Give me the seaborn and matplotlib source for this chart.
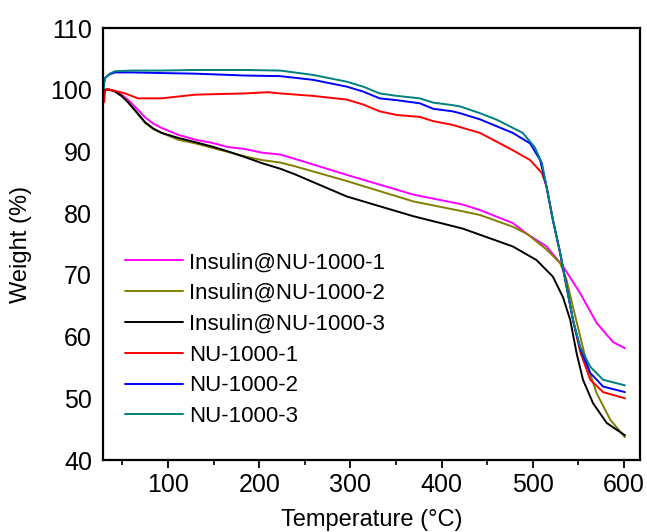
import matplotlib
matplotlib.use("Agg")
import matplotlib.pyplot as plt
from matplotlib.ticker import MultipleLocator
import seaborn as sns
import pandas as pd

# ---- data ----
names = ["Insulin@NU-1000-1", "Insulin@NU-1000-2", "Insulin@NU-1000-3",
         "NU-1000-1", "NU-1000-2", "NU-1000-3"]
colors = ["#FF00FF", "#808000", "#000000", "#FF0000", "#0000FF", "#008080"]

ins1_t = [29, 31, 36, 42, 49, 56, 66, 75, 84, 93, 111, 130, 148, 166, 184, 203, 223, 239, 296, 369, 423, 442, 478, 494, 515, 533, 552, 570, 588, 601]
ins1_w = [99.5, 100.0, 100.0, 99.8, 99.2, 98.4, 96.9, 95.5, 94.5, 93.8, 92.7, 91.9, 91.4, 90.7, 90.4, 89.8, 89.5, 88.8, 86.2, 83.0, 81.4, 80.5, 78.4, 76.6, 74.6, 71.4, 67.0, 62.2, 59.1, 58.1]

ins2_t = [29, 31, 36, 42, 49, 56, 66, 75, 84, 93, 111, 130, 148, 166, 184, 203, 223, 239, 296, 369, 423, 442, 478, 494, 515, 530, 537, 544, 552, 559, 570, 585, 601]
ins2_w = [99.5, 100.0, 100.0, 99.7, 99.0, 98.0, 96.2, 94.6, 93.6, 93.0, 91.9, 91.3, 90.6, 89.9, 89.2, 88.6, 88.2, 87.6, 85.2, 81.9, 80.3, 79.7, 77.8, 76.6, 74.1, 71.9, 69.2, 64.8, 60.0, 55.7, 50.8, 46.5, 43.7]

ins3_t = [29, 31, 36, 42, 49, 56, 66, 75, 84, 93, 111, 130, 148, 166, 184, 203, 223, 239, 296, 369, 423, 442, 478, 504, 522, 533, 541, 548, 555, 566, 581, 601]
ins3_w = [99.5, 100.0, 100.0, 99.7, 99.0, 98.0, 96.3, 94.7, 93.7, 93.0, 92.2, 91.5, 90.8, 90.0, 89.1, 88.1, 87.2, 86.3, 82.7, 79.5, 77.5, 76.5, 74.6, 72.4, 69.7, 66.4, 62.7, 57.3, 53.0, 49.2, 46.0, 44.0]

nu1_t = [29, 30, 31, 33, 36, 45, 53, 67, 93, 130, 184, 210, 223, 259, 296, 314, 332, 351, 376, 391, 412, 442, 478, 497, 510, 515, 522, 530, 537, 544, 552, 563, 577, 601]
nu1_w = [98.3, 98.0, 99.8, 100.1, 100.0, 99.7, 99.4, 98.6, 98.6, 99.2, 99.4, 99.6, 99.4, 99.0, 98.4, 97.6, 96.5, 95.9, 95.6, 94.9, 94.3, 93.0, 90.2, 88.6, 86.5, 84.3, 78.9, 73.5, 68.1, 62.7, 57.5, 53.0, 51.0, 50.0]

nu2_t = [29, 30, 31, 36, 42, 60, 93, 130, 184, 223, 259, 296, 314, 332, 351, 376, 391, 412, 420, 442, 478, 497, 508, 515, 522, 530, 537, 544, 552, 563, 577, 601]
nu2_w = [100.0, 101.2, 101.9, 102.5, 102.8, 102.8, 102.7, 102.6, 102.3, 102.2, 101.6, 100.5, 99.7, 98.6, 98.3, 97.8, 96.9, 96.5, 96.2, 95.2, 93.0, 91.3, 88.6, 84.3, 78.9, 73.5, 68.1, 62.7, 58.0, 54.1, 51.9, 51.0]

nu3_t = [29, 30, 31, 36, 42, 60, 93, 130, 184, 223, 259, 296, 314, 332, 351, 376, 391, 412, 420, 442, 461, 489, 502, 510, 515, 522, 530, 537, 544, 552, 563, 577, 601]
nu3_w = [100.0, 101.2, 101.9, 102.6, 103.0, 103.1, 103.1, 103.2, 103.2, 103.1, 102.4, 101.3, 100.5, 99.4, 99.0, 98.6, 97.9, 97.5, 97.3, 96.2, 95.1, 93.0, 90.7, 88.1, 84.3, 78.9, 73.5, 68.1, 62.7, 58.3, 55.1, 53.0, 52.1]

x_ticks = [100, 200, 300, 400, 500, 600]
y_ticks = [40, 50, 60, 70, 80, 90, 100, 110]

series_t = [ins1_t, ins2_t, ins3_t, nu1_t, nu2_t, nu3_t]
series_w = [ins1_w, ins2_w, ins3_w, nu1_w, nu2_w, nu3_w]
frames = []
for n, t, w in zip(names, series_t, series_w):
    frames.append(pd.DataFrame({"Temperature": t, "Weight": w, "Sample": n}))
df = pd.concat(frames, ignore_index=True)

# ---- styling ----
sns.set_style("white")
plt.rcParams["font.family"] = ["Liberation Sans", "DejaVu Sans"]
plt.rcParams["text.color"] = "black"
plt.rcParams["axes.labelcolor"] = "black"
plt.rcParams["xtick.color"] = "black"
plt.rcParams["ytick.color"] = "black"

fig = plt.figure(figsize=(6.47, 5.32), dpi=100)
ax = fig.add_axes([103 / 647, 1 - 460 / 532, (640 - 103) / 647, (460 - 28) / 532])

sns.lineplot(data=df, x="Temperature", y="Weight", hue="Sample",
             hue_order=names, palette=dict(zip(names, colors)),
             sort=False, estimator=None, linewidth=1.4, ax=ax)

ax.set_xlim(28.7, 617.5)
ax.set_ylim(40, 110)
ax.set_xticks(x_ticks)
ax.set_yticks(y_ticks)
ax.xaxis.set_minor_locator(MultipleLocator(50))
ax.tick_params(axis="x", which="major", direction="out", length=6, width=1.3,
               labelsize=18, pad=3, bottom=True, color="black", labelcolor="black")
ax.tick_params(axis="x", which="minor", direction="out", length=3.5, width=1.2,
               bottom=True, color="black")
ax.tick_params(axis="y", which="both", length=0, labelsize=18, pad=8, labelcolor="black")
for s in ax.spines.values():
    s.set_visible(True)
    s.set_color("black")
    s.set_linewidth(1.6)

ax.set_xlabel("Temperature (°C)", fontsize=17, labelpad=9, color="black")
ax.set_ylabel("Weight (%)", fontsize=17, labelpad=13, color="black")

handles, labels = ax.get_legend_handles_labels()
leg = ax.legend(handles, labels, loc="upper left", bbox_to_anchor=(0.041, 0.481),
                frameon=False, fontsize=16, handlelength=2.6, handletextpad=0.3,
                labelspacing=0.44, borderpad=0, borderaxespad=0)
for t in leg.get_texts():
    t.set_color("black")

fig.savefig("out.png", dpi=100)
